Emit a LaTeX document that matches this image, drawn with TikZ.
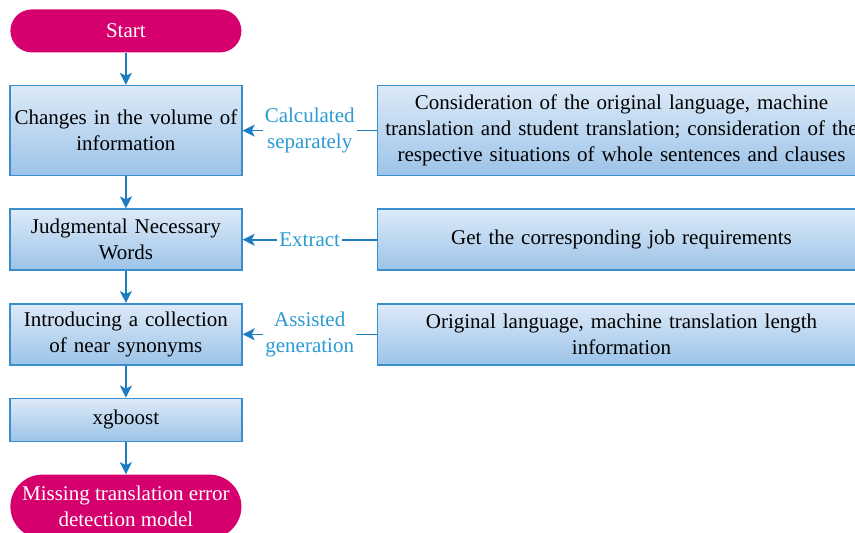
\documentclass[tikz,border=0pt]{standalone}
\usepackage{fontspec}
\setmainfont{Liberation Serif}
\usepackage{xcolor}
\usetikzlibrary{shapes,arrows.meta,calc,positioning}
\definecolor{boxline}{HTML}{3A8FCB}
\definecolor{boxtop}{HTML}{DDEAF8}
\definecolor{boxbot}{HTML}{9CC3E8}
\definecolor{arrowblue}{HTML}{1C7EC0}
\definecolor{labelblue}{HTML}{2A9BD3}
\definecolor{pillred}{HTML}{D5006D}
\begin{document}
\begin{tikzpicture}[
      > = {Stealth[length=6pt,width=6pt,inset=1.5pt]},
      node distance = 16pt,
      font = \fontsize{10.5}{13}\selectfont
    ]
    \tikzstyle{my line} = [->, arrowblue, thick]
    \tikzstyle{step box} = [rectangle, draw=boxline, thick, top color=boxtop, bottom color=boxbot, align=center, inner sep=1pt]
    \tikzstyle{left box} = [step box, minimum width=115.5pt, text width=114pt]
    \tikzstyle{right box} = [step box, minimum width=244pt, text width=242pt]
    \tikzstyle{pill} = [rectangle, fill=pillred, text=white, align=center, minimum width=115.5pt]
    \tikzstyle{side label} = [fill=white, text=labelblue, align=center, inner sep=1pt]
    \clip (0,0) rectangle (427.5pt,-266pt);
    \useasboundingbox (0,0) rectangle (427.5pt,-266pt);
    \node[pill, minimum height=21.5pt, rounded corners=10.75pt, anchor=north west] (start) at (5pt,-4.5pt) {Start};
    \node[left box, minimum height=45pt] (volume) [below=of start] {Changes in the volume of\\information};
    \node[left box, minimum height=30.5pt] (words) [below=of volume] {Judgmental Necessary\\Words};
    \node[left box, minimum height=30.5pt] (synonyms) [below=of words] {Introducing a collection\\of near synonyms};
    \node[left box, minimum height=21.5pt] (xgb) [below=of synonyms] {xgboost};
    \node[pill, minimum height=32pt, rounded corners=16pt] (model) [below=of xgb] {Missing translation error\\detection model};
    \node[right box, minimum height=45pt] (consider) [right=67pt of volume] {Consideration of the original language, machine\\translation and student translation; consideration of the\\respective situations of whole sentences and clauses};
    \node[right box, minimum height=30.5pt] (job) [right=67pt of words] {Get the corresponding job requirements};
    \node[right box, minimum height=30.5pt] (length) [right=67pt of synonyms] {Original language, machine translation length\\information};
    \draw[my line] (start) -- (volume);
    \draw[my line] (volume) -- (words);
    \draw[my line] (words) -- (synonyms);
    \draw[my line] (synonyms) -- (xgb);
    \draw[my line] (xgb) -- (model);
    \draw[my line] (consider) -- node[side label] {Calculated\\separately} (volume);
    \draw[my line] (job) -- node[side label] {Extract} (words);
    \draw[my line] (length) -- node[side label] {Assisted\\generation} (synonyms);
  \end{tikzpicture}
\end{document}
